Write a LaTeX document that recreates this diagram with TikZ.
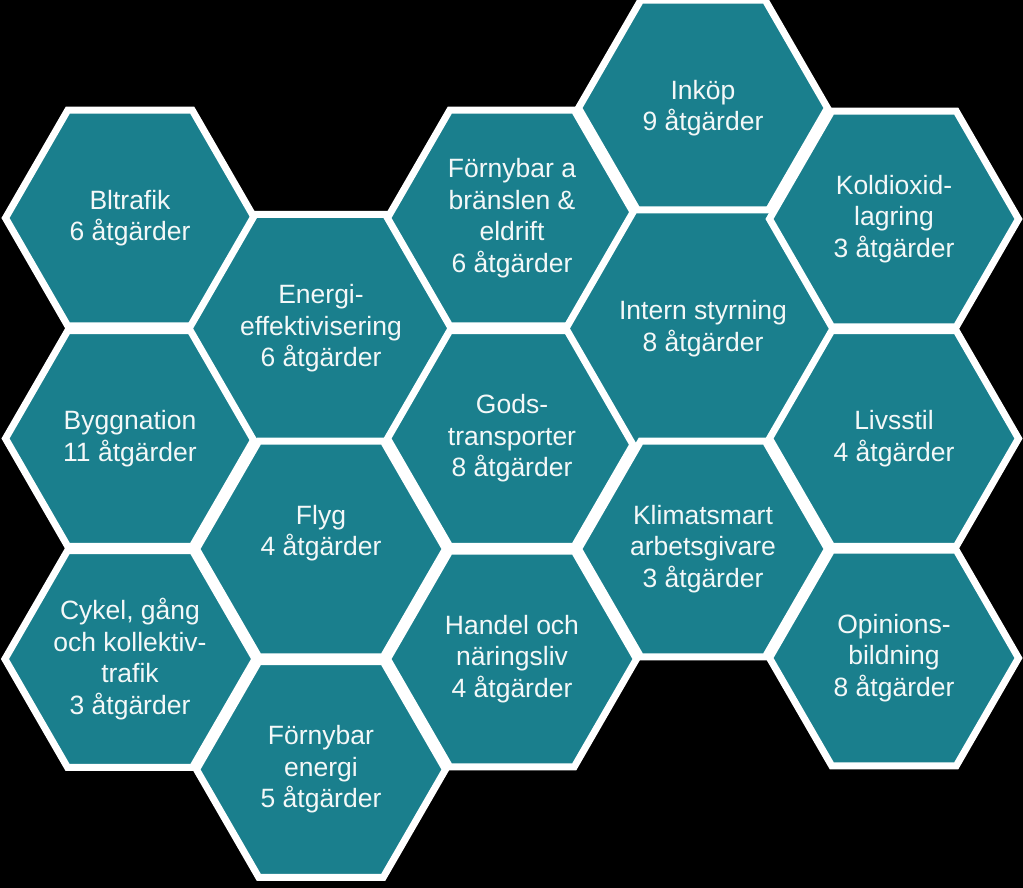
\documentclass[tikz,border=0pt]{standalone}
\usepackage{fontspec}
\setmainfont{Liberation Sans}
\usepackage{xcolor}
\usepackage{tikz}
\usetikzlibrary{shapes.geometric}
\definecolor{HexTeal}{HTML}{1A7F8D}
\definecolor{HexEdge}{HTML}{FFFFFF}
\definecolor{HexText}{HTML}{F4F8F8}

\begin{document}
\begin{tikzpicture}[
  x=1pt, y=-1pt,
  hexcell/.style={
    regular polygon,
    regular polygon sides=6,
    minimum size=249pt,
    inner sep=0pt,
    draw=HexEdge,
    line width=7pt,
    fill=HexTeal,
    text=HexText,
    align=center,
    font=\fontsize{26.5}{31.5}\selectfont
  }
]
\useasboundingbox (0,0) rectangle (1023,888);
\fill[black] (0,0) rectangle (1023,888);
% column 1
\node[hexcell] (biltrafik) at (130,218) {Bltrafik\\6 åtgärder};
\node[hexcell] (byggnation) at (130,438.5) {Byggnation\\11 åtgärder};
\node[hexcell] (cykel) at (130,659) {Cykel, gång\\och kollektiv-\\trafik\\3 åtgärder};
% column 2
\node[hexcell] (energi) at (321,328.5) {Energi-\\effektivisering\\6 åtgärder};
\node[hexcell] (flyg) at (321,549) {Flyg\\4 åtgärder\\[6pt]\mbox{}};
\node[hexcell] (fornybarenergi) at (321,769.5) {Förnybar\\energi\\5 åtgärder};
% column 3
\node[hexcell] (bransle) at (512,218) {Förnybar a\\bränslen \&\\eldrift\\6 åtgärder};
\node[hexcell] (gods) at (512,438.5) {Gods-\\transporter\\8 åtgärder};
\node[hexcell] (handel) at (512,659) {Handel och\\näringsliv\\4 åtgärder};
% column 4
\node[hexcell] (inkop) at (703,108) {Inköp\\9 åtgärder};
\node[hexcell] (styrning) at (703,328.5) {Intern styrning\\8 åtgärder};
\node[hexcell] (arbetsgivare) at (703,549) {Klimatsmart\\arbetsgivare\\3 åtgärder};
% column 5
\node[hexcell] (koldioxid) at (894,219) {Koldioxid-\\lagring\\3 åtgärder};
\node[hexcell] (livsstil) at (894,438.5) {Livsstil\\4 åtgärder};
\node[hexcell] (opinion) at (894,658) {Opinions-\\bildning\\8 åtgärder};
\end{tikzpicture}
\end{document}
